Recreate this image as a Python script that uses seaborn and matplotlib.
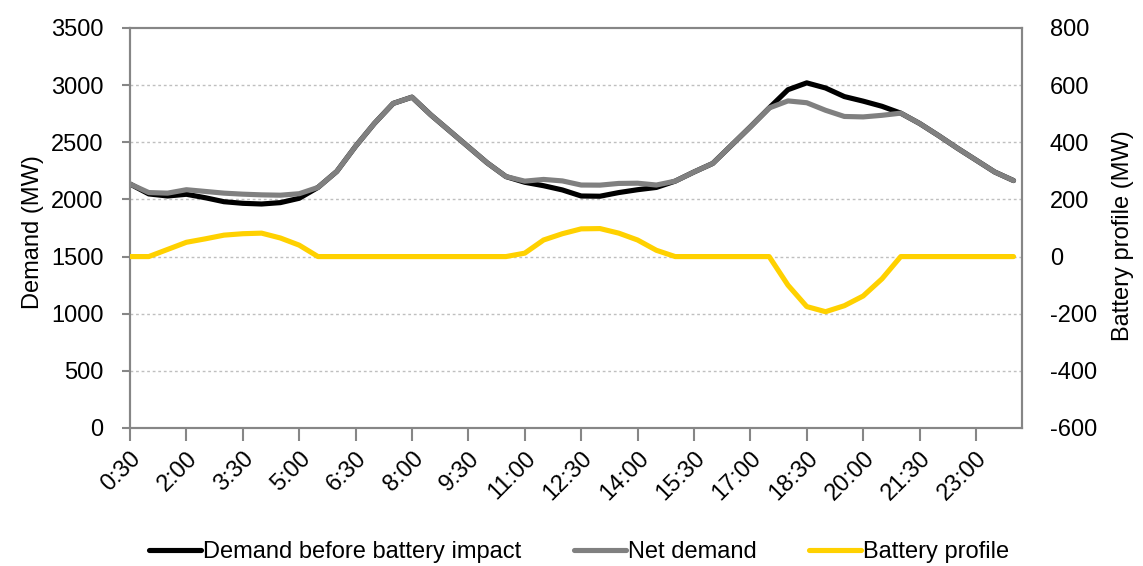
import matplotlib
matplotlib.use("Agg")
import matplotlib.pyplot as plt
import seaborn as sns
import pandas as pd
from matplotlib.lines import Line2D

# Half-hourly periods, 0:30 through 24:00
times = [f"{(m // 60)}:{m % 60:02d}" for m in range(30, 24 * 60 + 1, 30)]

demand_before = [2135, 2048, 2030, 2045, 2015, 1980, 1966, 1960, 1972, 2010,
                 2105, 2245, 2465, 2665, 2840, 2895, 2740, 2600, 2460, 2320,
                 2200, 2150, 2120, 2083, 2030, 2028, 2060, 2085, 2105, 2160,
                 2240, 2315, 2475, 2635, 2800, 2960, 3020, 2975, 2900, 2860,
                 2815, 2755, 2665, 2560, 2450, 2345, 2240, 2165]

net_demand = [2135, 2060, 2055, 2085, 2070, 2055, 2046, 2040, 2037, 2050,
              2105, 2245, 2465, 2665, 2840, 2895, 2740, 2600, 2460, 2320,
              2200, 2160, 2175, 2162, 2126, 2125, 2140, 2142, 2126, 2160,
              2240, 2315, 2475, 2635, 2800, 2862, 2846, 2780, 2726, 2722,
              2736, 2755, 2665, 2560, 2450, 2345, 2240, 2165]

battery = [0, 0, 25, 50, 62, 75, 80, 82, 65, 40,
           0, 0, 0, 0, 0, 0, 0, 0, 0, 0,
           0, 12, 58, 80, 97, 98, 82, 58, 22, 0,
           0, 0, 0, 0, 0, -100, -175, -193, -172, -138,
           -78, 0, 0, 0, 0, 0, 0, 0]

series_names = ["Demand before battery impact", "Net demand", "Battery profile"]
colors = ["#000000", "#808080", "#FFD100"]

sns.set_theme(style="white")
plt.rcParams["font.family"] = ["Liberation Sans", "DejaVu Sans"]
plt.rcParams["axes.unicode_minus"] = False
plt.rcParams["text.color"] = "black"
plt.rcParams["axes.labelcolor"] = "black"

df = pd.DataFrame({"idx": range(len(times)), "time": times,
                   "demand": demand_before, "net": net_demand,
                   "battery": battery})

fig = plt.figure(figsize=(11.43, 5.66), dpi=100)
ax = fig.add_axes([130 / 1143, 1 - 428 / 566, (1022 - 130) / 1143, 400 / 566])
ax2 = ax.twinx()

lw = 3.7
sns.lineplot(data=df, x="idx", y="demand", ax=ax, color=colors[0], lw=lw,
             solid_capstyle="round", zorder=3)
sns.lineplot(data=df, x="idx", y="net", ax=ax, color=colors[1], lw=lw,
             solid_capstyle="round", zorder=4)
sns.lineplot(data=df, x="idx", y="battery", ax=ax2, color=colors[2], lw=lw,
             solid_capstyle="round", zorder=3)

spine_c = "#868686"
ax.set_xlim(0, 47.45)
ax.set_ylim(0, 3500)
ax2.set_ylim(-600, 800)
ax.set_yticks(range(0, 3501, 500))
ax2.set_yticks(range(-600, 801, 200))
ax.set_xticks(range(0, len(times), 3))
ax.set_xticklabels(times[::3], rotation=45, ha="right", rotation_mode="anchor")

for y in range(500, 3500, 500):
    ax.axhline(y, color="#BFBFBF", lw=1.0, ls=(0, (2, 2)), zorder=1)

for a in (ax, ax2):
    for s in a.spines.values():
        s.set_color(spine_c)
        s.set_linewidth(1.5)
    a.grid(False)

fs = 17
ax.tick_params(axis="y", which="major", direction="out", length=6, width=1.5,
               color=spine_c, labelcolor="black", labelsize=fs, pad=13, left=True)
ax.tick_params(axis="x", which="major", direction="out", length=9, width=1.5,
               color=spine_c, labelcolor="black", labelsize=fs, pad=5, bottom=True)
ax2.tick_params(axis="y", length=0, labelcolor="black", labelsize=fs, pad=20)

ax.set_xlabel("")
ax.set_ylabel("Demand (MW)", fontsize=fs)
ax2.set_ylabel("Battery profile (MW)", fontsize=fs)
ax.yaxis.set_label_coords(-0.0964, 0.49)
ax2.yaxis.set_label_coords(1.101, 0.48)

handles = [Line2D([], [], color=c, lw=lw, solid_capstyle="round") for c in colors]
fig.legend(handles, series_names, loc="center",
           bbox_to_anchor=(0.5066, 1 - 552 / 566), bbox_transform=fig.transFigure,
           ncol=3, frameon=False, fontsize=fs,
           handlelength=2.2, handletextpad=0.1, columnspacing=2.2)

fig.savefig("out.png", dpi=100)
